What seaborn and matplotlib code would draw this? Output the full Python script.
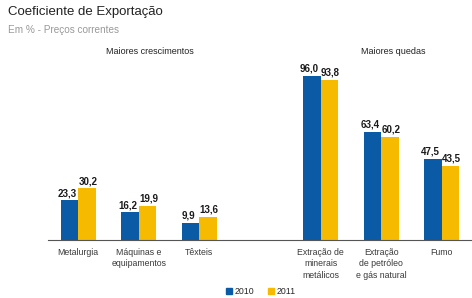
import matplotlib
matplotlib.use("Agg")
import matplotlib.pyplot as plt
import seaborn as sns
import pandas as pd
import numpy as np
from matplotlib.lines import Line2D

categories = ["Metalurgia", "Máquinas e\nequipamentos", "Têxteis", " ",
              "Extração de\nminerais\nmetálicos", "Extração\nde petróleo\ne gás natural", "Fumo"]
data_categories = ["Metalurgia", "Máquinas e\nequipamentos", "Têxteis",
                   "Extração de\nminerais\nmetálicos", "Extração\nde petróleo\ne gás natural", "Fumo"]
values_2010 = [23.3, 16.2, 9.9, 96.0, 63.4, 47.5]
values_2011 = [30.2, 19.9, 13.6, 93.8, 60.2, 43.5]
years = ["2010", "2011"]

sns.set_theme(style="white")
plt.rcParams['font.family'] = ['Liberation Sans', 'DejaVu Sans']

df = pd.DataFrame({
    "cat": data_categories * 2,
    "year": [years[0]] * 6 + [years[1]] * 6,
    "val": values_2010 + values_2011,
})

colors = {"2010": "#0B5AA6", "2011": "#F6BA00"}

W, H = 472, 298
fig = plt.figure(figsize=(W / 100, H / 100), dpi=100)
ax_left, ax_right, ax_bottom, ax_top = 48, 472, 240, 69
ax = fig.add_axes([ax_left / W, 1 - ax_bottom / H, (ax_right - ax_left) / W, (ax_bottom - ax_top) / H])

sns.barplot(data=df, x="cat", y="val", hue="year", order=categories, hue_order=years,
            palette=colors, width=0.58, ax=ax, legend=False, saturation=1, linewidth=0)
ax.set_ylim(0, 100)
ax.set_xlim(-0.5, 6.5)

offsets = [-1.9, 0.7]
for cont, dx in zip(ax.containers, offsets):
    for patch, v in zip(cont.patches, cont.datavalues):
        if np.isnan(v):
            continue
        ax.annotate(f"{v:.1f}".replace(".", ","),
                    xy=(patch.get_x() + patch.get_width() / 2, patch.get_height()),
                    xytext=(dx, 1.5), textcoords="offset points", ha="center", va="bottom",
                    fontsize=7, fontweight="bold", color="#1a1a1a", annotation_clip=False)

ax.set_xlabel("")
ax.set_ylabel("")
ax.set_yticks([])
for s in ["top", "right", "left"]:
    ax.spines[s].set_visible(False)
ax.spines["bottom"].set_color("#555555")
ax.spines["bottom"].set_linewidth(0.8)
ax.set_xticks(range(len(categories)))
ax.set_xticklabels(categories, fontsize=6.3, color="#3a3a3a", linespacing=1.3)
ax.tick_params(axis="x", which="major", length=0, pad=6)
ax.set_xticks(np.arange(-0.5, 6.6, 1), minor=True)
ax.tick_params(axis="x", which="minor", length=3, width=0.8, color="#555555", direction="out")

fig.text(8 / W, 1 - 12 / H, "Coeficiente de Exportação", fontsize=9.5, color="#222222", va="center")
fig.text(8 / W, 1 - 30 / H, "Em % - Preços correntes", fontsize=7.2, color="#999999", va="center")
fig.text(150 / W, 1 - 52 / H, "Maiores crescimentos", fontsize=6.5, color="#222222", ha="center", va="center")
fig.text(393 / W, 1 - 52 / H, "Maiores quedas", fontsize=6.5, color="#222222", ha="center", va="center")

handles = [Line2D([], [], marker="s", linestyle="", markersize=4, color=colors[y]) for y in years]
fig.legend(handles, years, loc="center", bbox_to_anchor=(261 / W, 1 - 292 / H), ncol=2,
           frameon=False, fontsize=6.3, handletextpad=0.3, columnspacing=1.6, handlelength=0.6)

fig.savefig("out.png", dpi=100)
